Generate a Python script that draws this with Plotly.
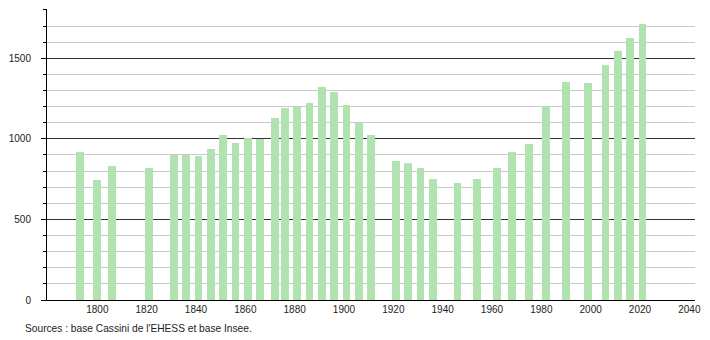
import plotly.graph_objects as go

years = [1793, 1800, 1806, 1821, 1831, 1836, 1841, 1846, 1851, 1856, 1861, 1866,
         1872, 1876, 1881, 1886, 1891, 1896, 1901, 1906, 1911, 1921, 1926, 1931,
         1936, 1946, 1954, 1962, 1968, 1975, 1982, 1990, 1999, 2006, 2011, 2016, 2021]
population = [921, 742, 829, 817, 902, 901, 892, 936, 1023, 977, 1008, 998,
              1127, 1191, 1198, 1225, 1324, 1291, 1208, 1100, 1023, 861, 848, 817,
              753, 724, 748, 817, 917, 967, 1202, 1353, 1349, 1459, 1543, 1628, 1715]
x_ticks = list(range(1800, 2041, 20))
y_ticks = [0, 500, 1000, 1500]
source_text = "Sources : base Cassini de l'EHESS et base Insee."

FONT = "Liberation Sans, Arial, sans-serif"

fig = go.Figure()
fig.add_trace(go.Bar(
    x=years, y=population, width=3.2,
    marker=dict(color="rgb(176,227,176)", line=dict(width=0)),
    hoverinfo="x+y",
))

fig.update_layout(
    width=710, height=340,
    margin=dict(l=44, r=9, t=9, b=40),
    paper_bgcolor="white", plot_bgcolor="white",
    showlegend=False,
    font=dict(family=FONT, size=10, color="#222"),
    bargap=0,
    annotations=[dict(
        text=source_text, xref="paper", yref="paper",
        x=-0.0365, y=-0.099, xanchor="left", yanchor="middle",
        showarrow=False, font=dict(family=FONT, size=10.2, color="#222"),
    )],
)

fig.update_xaxes(
    range=[1779.6, 2042.3],
    tickvals=x_ticks, ticktext=[str(v) for v in x_ticks],
    showgrid=False, zeroline=False,
    showline=True, linecolor="black", linewidth=1,
    ticks="", tickfont=dict(family=FONT, size=10, color="#222"),
)

fig.update_yaxes(
    range=[0, 1806],
    tickvals=y_ticks, ticktext=[str(v) for v in y_ticks],
    showgrid=True, gridcolor="#333333", gridwidth=1,
    zeroline=False,
    showline=True, linecolor="black", linewidth=1,
    ticks="outside", ticklen=5, tickcolor="black", tickwidth=1,
    ticklabelstandoff=8,
    tickfont=dict(family=FONT, size=10, color="#222"),
    minor=dict(dtick=100, showgrid=True, gridcolor="#c8c8c8", gridwidth=1,
               ticks="outside", ticklen=3, tickcolor="black", tickwidth=1),
)

fig.write_html("out.html")
